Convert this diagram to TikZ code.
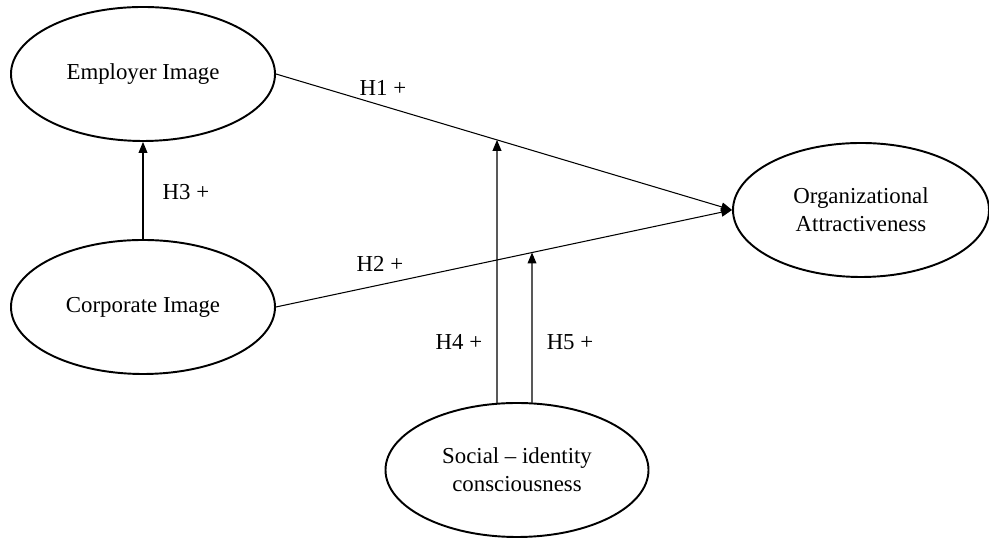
\documentclass[tikz,border=0pt]{standalone}
\usepackage{fontspec}
\setmainfont{Liberation Serif}
\usetikzlibrary{arrows.meta, positioning, calc, shapes.geometric, intersections}

\begin{document}
\begin{tikzpicture}[>={Triangle[length=6.2pt,width=5pt]}, line width=0.6pt,
        construct/.style={ellipse, draw, line width=1.1pt, inner sep=0pt,
            minimum width=5.28cm, minimum height=2.68cm, align=center,
            font=\fontsize{13}{15.8}\selectfont},
        hyp/.style={font=\fontsize{13}{15}\selectfont}]
        \useasboundingbox (0,0) rectangle (19.78,10.78);
        % Constructs
        \node [construct] (emp) at (2.86,9.30) {Employer Image};
        \node [construct] (corp) at (2.86,4.64) {Corporate Image};
        \node [construct, minimum width=5.12cm] (org) at (17.22,6.58) {Organizational\\Attractiveness};
        \node [construct, minimum width=5.26cm] (soc) at (10.34,1.38) {Social -- identity\\consciousness};
        % Direct paths
        \draw [->, name path=h1] (emp.east) -- (org.west);
        \draw [->, name path=h2] (corp.east) -- (org.west);
        \draw [->] (corp.north) -- (emp.south);
        % Moderating paths
        \coordinate (m4) at ($(soc.north)+(-0.40,-0.03)$);
        \coordinate (m5) at ($(soc.north)+(0.30,-0.01)$);
        \path [name path=v4] (m4) -- ++(0,9);
        \path [name path=v5] (m5) -- ++(0,9);
        \draw [->, name intersections={of=h1 and v4}] (m4) -- (intersection-1);
        \draw [->, name intersections={of=h2 and v5}] (m5) -- (intersection-1);
        % Hypotheses
        \node [hyp] (l1) at (7.66,9.02) {H1 +};
        \node [hyp] (l2) at (7.60,5.50) {H2 +};
        \node [hyp] (l3) at (3.72,6.94) {H3 +};
        \node [hyp] (l4) at (9.18,3.94) {H4 +};
        \node [hyp] (l5) at (11.40,3.94) {H5 +};
    \end{tikzpicture}
\end{document}
